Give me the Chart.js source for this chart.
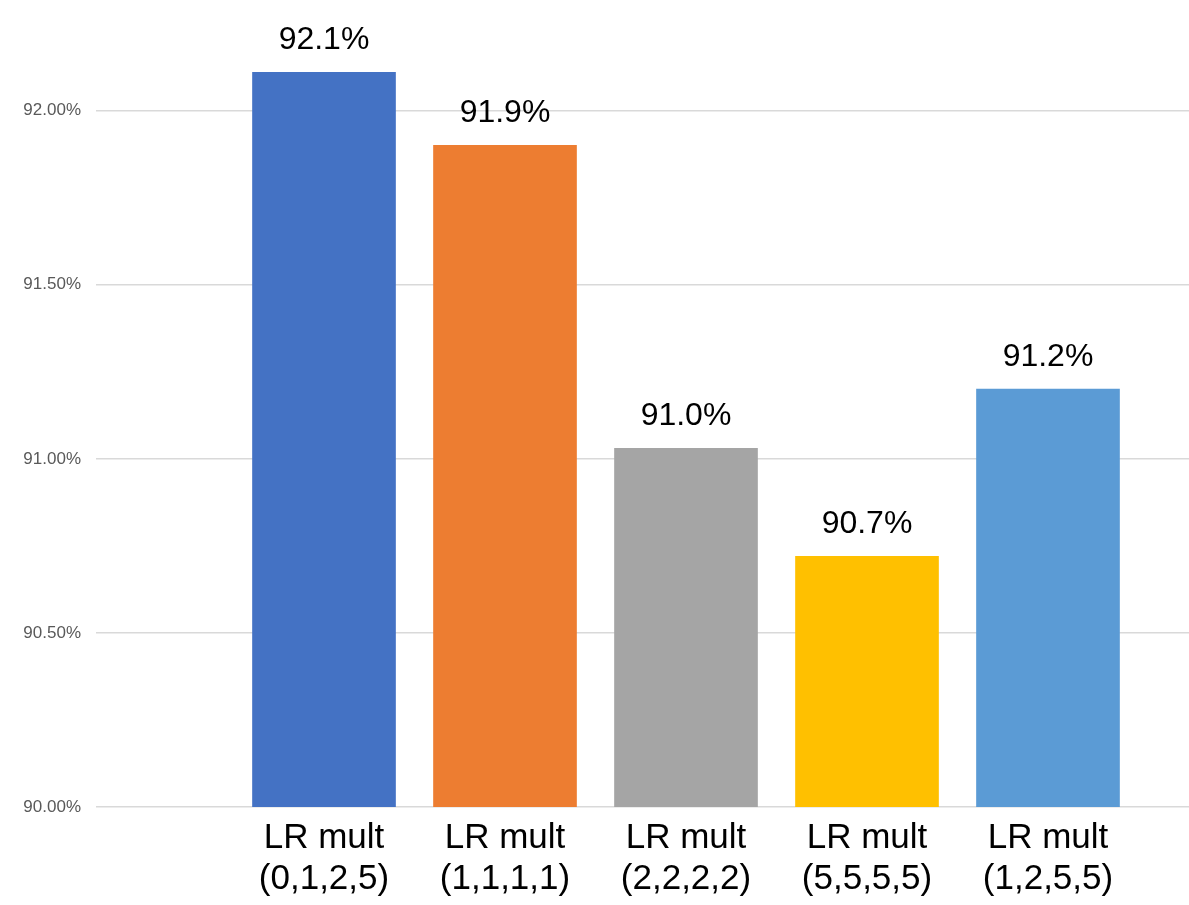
<!DOCTYPE html>
<html>
<head>
<meta charset="utf-8">
<script src="https://cdn.jsdelivr.net/npm/chart.js@4.4.1/dist/chart.umd.min.js"></script>
<style>
  html, body { margin: 0; padding: 0; background: #ffffff; }
  #wrap { position: relative; width: 1189px; height: 905px; }
  canvas { display: block; }
</style>
</head>
<body>
<div id="wrap"><canvas id="c" width="1189" height="905"></canvas></div>
<script>
// ---- data ----
const categoryLines = [
  ['LR mult', '(0,1,2,5)'],
  ['LR mult', '(1,1,1,1)'],
  ['LR mult', '(2,2,2,2)'],
  ['LR mult', '(5,5,5,5)'],
  ['LR mult', '(1,2,5,5)']
];
const accuracyValues = [92.11, 91.90, 91.03, 90.72, 91.20];
const valueLabels = ['92.1%', '91.9%', '91.0%', '90.7%', '91.2%'];
const barColors = ['#4472C4', '#ED7D31', '#A5A5A5', '#FFC000', '#5B9BD5'];
const yTickValues = [90.0, 90.5, 91.0, 91.5, 92.0];
const categoryPositions = [1, 2, 3, 4, 5];

const valueLabelPlugin = {
  id: 'valueLabels',
  afterDatasetsDraw(chart) {
    const ctx = chart.ctx;
    const meta = chart.getDatasetMeta(0);
    ctx.save();
    ctx.font = '32px "Liberation Sans", Arial, sans-serif';
    ctx.fillStyle = '#000000';
    ctx.textAlign = 'center';
    ctx.textBaseline = 'alphabetic';
    meta.data.forEach((bar, i) => {
      ctx.fillText(valueLabels[i], bar.x, bar.y - 23);
    });
    ctx.restore();
  }
};

new Chart(document.getElementById('c'), {
  type: 'bar',
  data: {
    datasets: [{
      data: accuracyValues.map((v, i) => ({ x: categoryPositions[i], y: v })),
      backgroundColor: barColors,
      borderWidth: 0,
      barThickness: 143
    }]
  },
  options: {
    responsive: false,
    animation: false,
    devicePixelRatio: 1,
    layout: { padding: { top: 41, right: 0, left: 0, bottom: 0 } },
    plugins: {
      legend: { display: false },
      tooltip: { enabled: false }
    },
    scales: {
      x: {
        type: 'linear',
        offset: false,
        min: -0.2597,
        max: 5.779,
        grid: { display: false, drawTicks: false, offset: false },
        border: { display: false },
        afterBuildTicks(scale) {
          scale.ticks = categoryPositions.map(v => ({ value: v }));
        },
        afterFit(scale) { scale.height = 98; },
        ticks: {
          autoSkip: false,
          maxRotation: 0,
          padding: 11,
          color: '#000000',
          font: { family: '"Liberation Sans", Arial, sans-serif', size: 35, lineHeight: 1.17 },
          callback(value) {
            const idx = categoryPositions.indexOf(value);
            return idx >= 0 ? categoryLines[idx] : '';
          }
        }
      },
      y: {
        type: 'linear',
        min: 90,
        max: 92.2,
        grid: { color: '#d9d9d9', lineWidth: 1.5, drawTicks: false },
        border: { display: false },
        afterBuildTicks(scale) {
          scale.ticks = yTickValues.map(v => ({ value: v }));
        },
        afterFit(scale) { scale.width = 96; },
        ticks: {
          padding: 15,
          color: '#595959',
          font: { family: '"Liberation Sans", Arial, sans-serif', size: 17 },
          callback(value) { return value.toFixed(2) + '%'; }
        }
      }
    }
  },
  plugins: [valueLabelPlugin]
});
</script>
</body>
</html>
